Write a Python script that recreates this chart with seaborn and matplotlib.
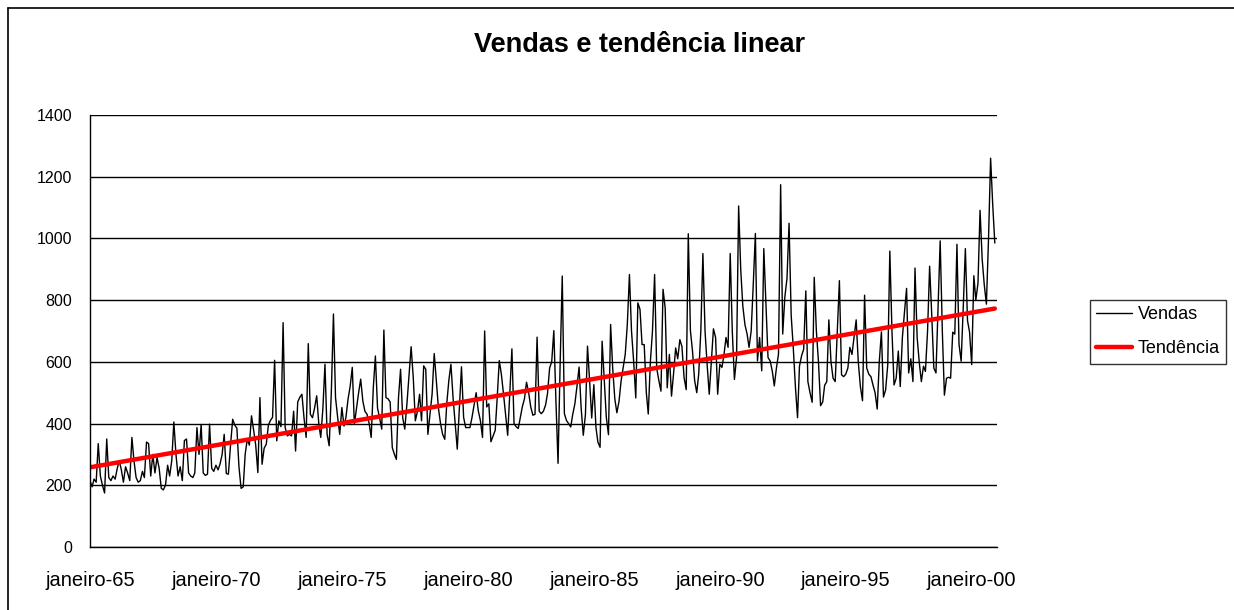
import numpy as np
import pandas as pd
import seaborn as sns
import matplotlib.pyplot as plt
from matplotlib.lines import Line2D

# monthly sales, jan/1965 .. dec/2000, one year per row
vendas = [
    215, 195, 220, 210, 335, 230, 200, 175, 350, 225, 215, 230,      # 1965
    220, 255, 280, 250, 210, 260, 240, 215, 355, 280, 225, 210,      # 1966
    215, 245, 225, 340, 335, 230, 300, 240, 290, 255, 190, 185,      # 1967
    200, 265, 230, 280, 405, 300, 230, 260, 215, 345, 350, 240,      # 1968
    230, 225, 240, 387, 300, 397, 240, 232, 236, 398, 255, 245,      # 1969
    265, 250, 268, 300, 365, 238, 236, 330, 414, 395, 385, 260,      # 1970
    190, 195, 300, 350, 330, 425, 380, 330, 241, 484, 268, 320,      # 1971
    333, 395, 410, 420, 605, 344, 409, 390, 727, 387, 360, 365,      # 1972
    360, 440, 311, 470, 485, 495, 419, 355, 659, 430, 419, 450,      # 1973
    490, 398, 355, 450, 592, 365, 328, 500, 755, 484, 420, 365,      # 1974
    452, 392, 420, 480, 520, 582, 398, 450, 500, 544, 473, 440,      # 1975
    430, 400, 355, 517, 619, 450, 419, 382, 703, 484, 480, 470,      # 1976
    322, 300, 284, 484, 576, 419, 382, 463, 560, 649, 549, 409,      # 1977
    440, 495, 409, 587, 576, 365, 430, 495, 627, 538, 450, 400,      # 1978
    365, 349, 463, 540, 592, 484, 400, 317, 450, 584, 420, 387,      # 1979
    387, 387, 419, 460, 500, 441, 410, 355, 700, 454, 464, 341,      # 1980
    360, 378, 480, 604, 560, 497, 430, 362, 500, 642, 400, 390,      # 1981
    384, 420, 454, 480, 534, 500, 454, 427, 430, 680, 440, 432,      # 1982
    440, 460, 497, 580, 600, 701, 475, 271, 600, 878, 432, 410,      # 1983
    400, 389, 430, 464, 520, 583, 450, 362, 429, 651, 537, 418,      # 1984
    526, 386, 340, 323, 667, 540, 420, 364, 721, 580, 480, 435,      # 1985
    472, 540, 580, 624, 720, 883, 700, 602, 483, 791, 770, 656,      # 1986
    656, 500, 431, 602, 700, 883, 580, 540, 505, 835, 775, 516,      # 1987
    624, 489, 560, 645, 610, 672, 650, 549, 510, 1015, 701, 636,     # 1988
    540, 500, 560, 700, 951, 700, 592, 495, 600, 707, 679, 495,      # 1989
    592, 582, 620, 679, 647, 951, 700, 543, 614, 1105, 897, 780,     # 1990
    720, 690, 647, 700, 850, 1016, 603, 679, 571, 967, 788, 614,     # 1991
    603, 570, 522, 580, 625, 1174, 690, 810, 870, 1049, 750, 647,    # 1992
    520, 419, 586, 620, 641, 830, 536, 500, 469, 874, 700, 602,      # 1993
    458, 470, 524, 536, 736, 600, 547, 536, 700, 863, 558, 552,      # 1994
    560, 580, 647, 624, 680, 736, 602, 520, 474, 816, 580, 560,      # 1995
    552, 524, 500, 447, 600, 697, 486, 509, 591, 959, 700, 525,      # 1996
    547, 635, 520, 679, 760, 838, 564, 610, 536, 904, 679, 600,      # 1997
    536, 586, 569, 700, 910, 750, 580, 564, 780, 992, 700, 492,      # 1998
    547, 550, 547, 696, 690, 981, 657, 602, 780, 967, 734, 696,      # 1999
    591, 879, 800, 855, 1091, 932, 850, 787, 1000, 1260, 1108, 985,  # 2000
]
tick_years = [1965, 1970, 1975, 1980, 1985, 1990, 1995, 2000]
tick_labels = ["janeiro-65", "janeiro-70", "janeiro-75", "janeiro-80",
               "janeiro-85", "janeiro-90", "janeiro-95", "janeiro-00"]

df = pd.DataFrame({"data": pd.date_range("1965-01-01", periods=len(vendas), freq="MS"),
                   "Vendas": vendas})
# linear trend fitted on the month index
t = np.arange(len(df))
a, b = np.polyfit(t, df["Vendas"], 1)
df["Tendência"] = a * t + b

sns.set_style("white")
plt.rcParams["font.family"] = ["Liberation Sans", "DejaVu Sans"]
plt.rcParams["text.color"] = "black"

fig = plt.figure(figsize=(12.34, 6.10), dpi=100)
ax = fig.add_axes([0.0729, 0.1033, 0.7350, 0.7082])

sns.lineplot(data=df, x="data", y="Vendas", ax=ax, color="black", linewidth=1.0, label="Vendas")
sns.lineplot(data=df, x="data", y="Tendência", ax=ax, color="#ff0000", linewidth=3.2, label="Tendência")

ax.set_xlim(pd.Timestamp("1965-01-01"), pd.Timestamp("2001-01-01"))
ax.set_ylim(0, 1400)
ax.set_yticks(range(0, 1401, 200))
ax.set_xticks([pd.Timestamp(f"{y}-01-01") for y in tick_years])
ax.set_xticklabels(tick_labels)
ax.tick_params(axis="both", colors="black", direction="out", length=5, width=1)
ax.tick_params(axis="x", labelsize=14.5, pad=12)
ax.tick_params(axis="y", labelsize=11.5, pad=8)
ax.set_xlabel("")
ax.set_ylabel("")
ax.yaxis.grid(True, color="black", linewidth=1)
ax.set_axisbelow(True)
for s in ["top", "right"]:
    ax.spines[s].set_visible(False)
for s in ["left", "bottom"]:
    ax.spines[s].set_color("black")
    ax.spines[s].set_linewidth(1)

ax.get_legend().remove()
h, l = ax.get_legend_handles_labels()
leg = fig.legend(h, l, loc="center left", bbox_to_anchor=(0.883, 0.456), fontsize=13,
                 frameon=True, fancybox=False, edgecolor="black", handlelength=2.0,
                 borderpad=0.35, labelspacing=0.95, handletextpad=0.3, borderaxespad=0,
                 labelcolor="black")
leg.get_frame().set_linewidth(1)

fig.text(0.518, 0.926, "Vendas e tendência linear", ha="center", va="center",
         fontsize=19.5, fontweight="bold", color="black")

# chart-area frame: only the left and top edges fall inside the picture
fig.lines.append(Line2D([0.0065, 0.0065], [0, 0.987], transform=fig.transFigure,
                        color="black", linewidth=1.2))
fig.lines.append(Line2D([0.0065, 1.0], [0.987, 0.987], transform=fig.transFigure,
                        color="black", linewidth=1.2))

fig.savefig("out.png", dpi=100)
